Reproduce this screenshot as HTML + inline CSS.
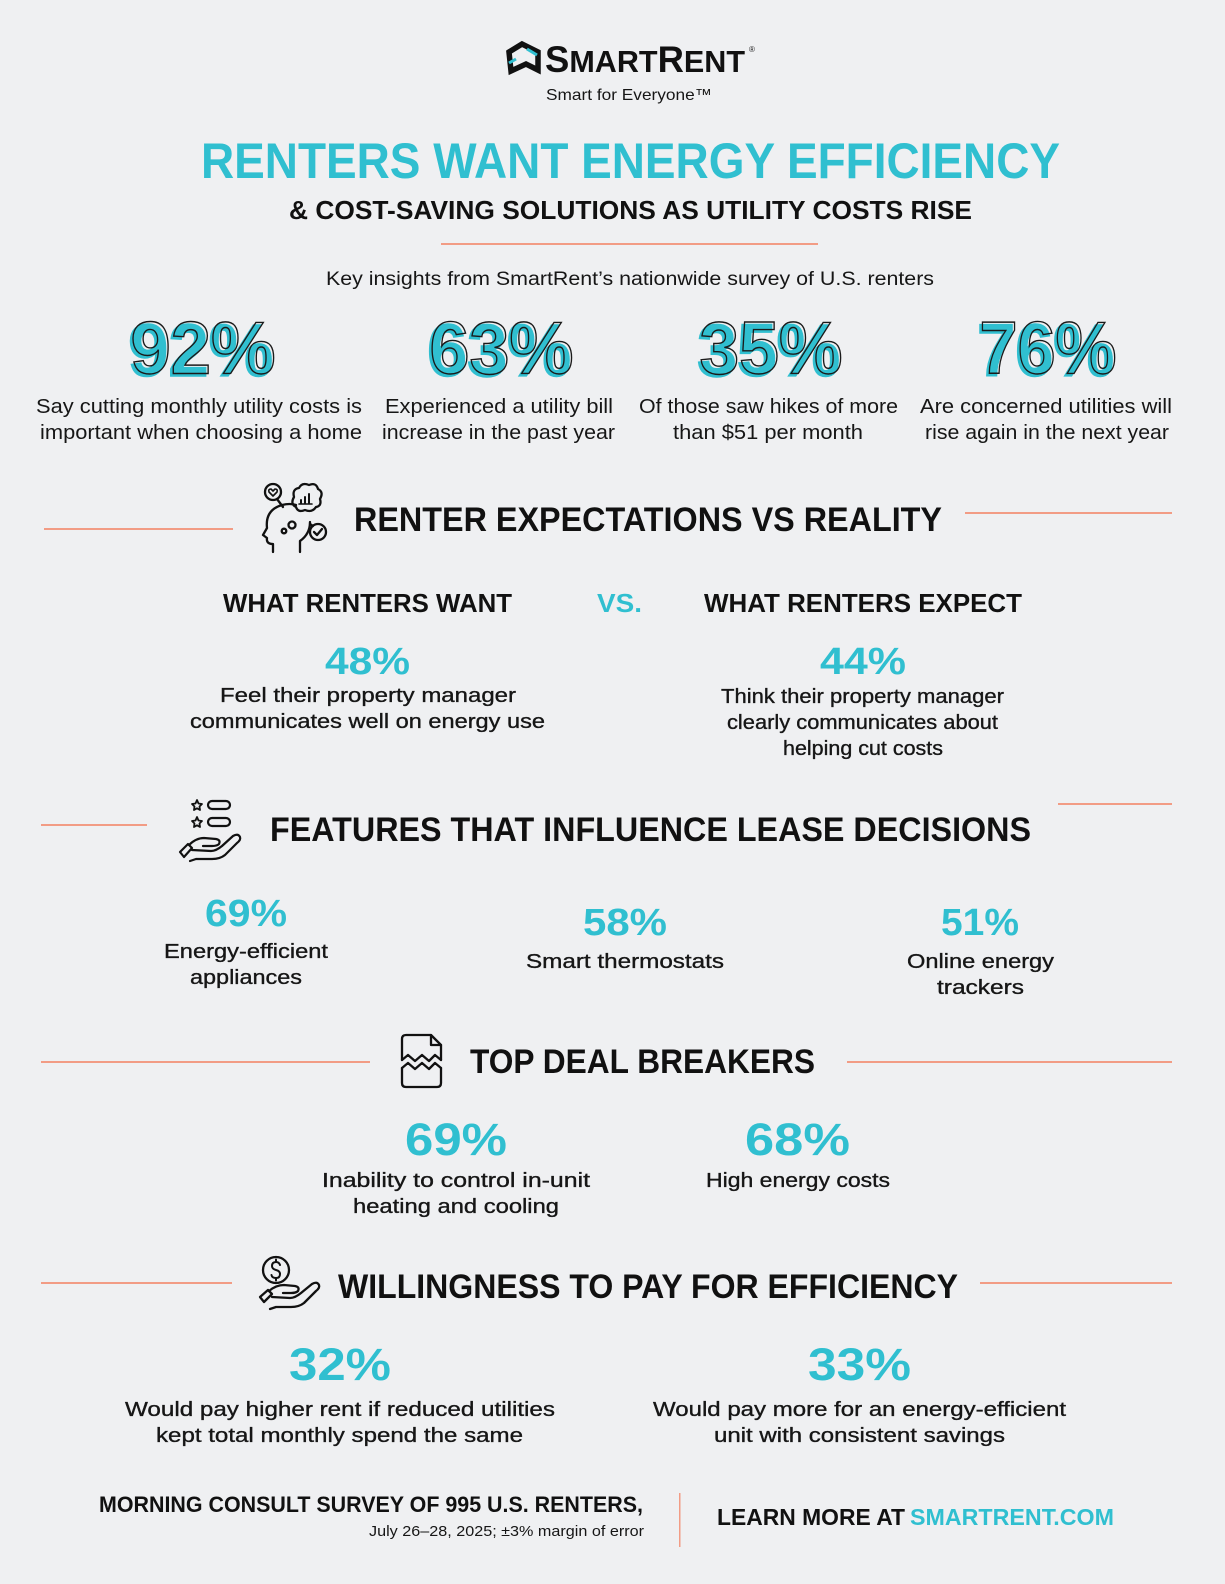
<!DOCTYPE html>
<html><head><meta charset="utf-8"><style>
html,body{margin:0;padding:0;background:#eff0f2;}
svg{display:block;}
.h{font-family:"Liberation Sans",sans-serif;font-weight:bold;}
.b{font-family:"Liberation Sans",sans-serif;fill:#161616;}
</style></head><body>
<svg width="1225" height="1584" viewBox="0 0 1225 1584" xmlns="http://www.w3.org/2000/svg">
<rect width="1225" height="1584" fill="#eff0f2"/>

<!-- Logo -->
<g>
<path d="M509 52 L522 44 L538 52 L538 70 L526 64 L511 71 Z" fill="none" stroke="#111" stroke-width="5.5" stroke-linejoin="miter"/>
<path d="M527 49 L537 55" stroke="#30bfd0" stroke-width="3"/>
<path d="M509 63 L516 59" stroke="#30bfd0" stroke-width="3"/>
<text x="545" y="72" class="h" font-size="37" fill="#111" textLength="200" lengthAdjust="spacingAndGlyphs">S<tspan font-size="31">MART</tspan>R<tspan font-size="31">ENT</tspan></text>
<text x="749" y="52" class="b" font-size="8">®</text>
<text x="629" y="100" class="b" font-size="16" text-anchor="middle" textLength="166" lengthAdjust="spacingAndGlyphs">Smart for Everyone™</text>
</g>

<!-- Title -->
<text x="201" y="178" class="h" font-size="50" fill="#30bfd0" textLength="859" lengthAdjust="spacingAndGlyphs">RENTERS WANT ENERGY EFFICIENCY</text>
<text x="289" y="219" class="h" font-size="26" fill="#111" textLength="683" lengthAdjust="spacingAndGlyphs">&amp; COST-SAVING SOLUTIONS AS UTILITY COSTS RISE</text>
<rect x="441" y="243" width="377" height="2" fill="#f29c85"/>
<text x="326" y="285" class="b" font-size="19" textLength="608" lengthAdjust="spacingAndGlyphs">Key insights from SmartRent’s nationwide survey of U.S. renters</text>

<!-- Big stats -->
<g class="h" font-size="74">
<text x="128" y="376" fill="#30bfd0" stroke="#30bfd0" stroke-width="1.5" textLength="145" lengthAdjust="spacingAndGlyphs">92%</text>
<text x="130.5" y="373.5" fill="none" stroke="#1a1a1a" stroke-width="1.4" textLength="145" lengthAdjust="spacingAndGlyphs">92%</text>
<text x="427" y="376" fill="#30bfd0" stroke="#30bfd0" stroke-width="1.5" textLength="144" lengthAdjust="spacingAndGlyphs">63%</text>
<text x="429.5" y="373.5" fill="none" stroke="#1a1a1a" stroke-width="1.4" textLength="144" lengthAdjust="spacingAndGlyphs">63%</text>
<text x="697" y="376" fill="#30bfd0" stroke="#30bfd0" stroke-width="1.5" textLength="143" lengthAdjust="spacingAndGlyphs">35%</text>
<text x="699.5" y="373.5" fill="none" stroke="#1a1a1a" stroke-width="1.4" textLength="143" lengthAdjust="spacingAndGlyphs">35%</text>
<text x="977" y="376" fill="#30bfd0" stroke="#30bfd0" stroke-width="1.5" textLength="137" lengthAdjust="spacingAndGlyphs">76%</text>
<text x="979.5" y="373.5" fill="none" stroke="#1a1a1a" stroke-width="1.4" textLength="137" lengthAdjust="spacingAndGlyphs">76%</text>
</g>
<g class="b" font-size="20">
<text x="36" y="413" textLength="326" lengthAdjust="spacingAndGlyphs">Say cutting monthly utility costs is</text>
<text x="40" y="439" textLength="322" lengthAdjust="spacingAndGlyphs">important when choosing a home</text>
<text x="385" y="413" textLength="228" lengthAdjust="spacingAndGlyphs">Experienced a utility bill</text>
<text x="382" y="439" textLength="233" lengthAdjust="spacingAndGlyphs">increase in the past year</text>
<text x="639" y="413" textLength="259" lengthAdjust="spacingAndGlyphs">Of those saw hikes of more</text>
<text x="673" y="439" textLength="190" lengthAdjust="spacingAndGlyphs">than $51 per month</text>
<text x="920" y="413" textLength="252" lengthAdjust="spacingAndGlyphs">Are concerned utilities will</text>
<text x="925" y="439" textLength="244" lengthAdjust="spacingAndGlyphs">rise again in the next year</text>
</g>

<!-- Section 1 -->
<rect x="44" y="528" width="189" height="2" fill="#f29c85"/>
<rect x="965" y="512" width="207" height="2" fill="#f29c85"/>
<g fill="none" stroke="#111" stroke-width="2.3" stroke-linecap="round" stroke-linejoin="round">
<path d="M273 552 L273 544 Q266 544 267 538 L263 535 L267 528 Q265 510 282 505 Q290 503 296 505"/>
<path d="M300 552 L300 541 Q310 534 310 522"/>
<circle cx="292" cy="525" r="3.5"/>
<circle cx="284" cy="531" r="2.3"/>
<circle cx="273" cy="492" r="8"/>
<path d="M273 496 L269 492 Q268 489 271 489 L273 491 L275 489 Q278 489 277 492 Z" stroke-width="1.6"/>
<path d="M277 499 L283 507"/>
<path d="M294 497 Q292 489 299 488 Q302 482 309 485 Q316 482 318 489 Q324 492 320 499 Q322 506 316 507 Q312 513 305 510 Q298 513 296 507 Q290 504 294 497 Z"/>
<path d="M301 503 L301 500 M305 503 L305 497 M309 503 L309 494" stroke-width="2"/>
<path d="M299 504 L312 504" stroke-width="1.6"/>
<circle cx="318" cy="532" r="8"/>
<path d="M314 532 L317 535 L322 529"/>
<path d="M310 524 L313 526"/>
</g>
<text x="354" y="531" class="h" font-size="34" fill="#111" textLength="588" lengthAdjust="spacingAndGlyphs">RENTER EXPECTATIONS VS REALITY</text>

<text x="223" y="612" class="h" font-size="26" fill="#111" textLength="289" lengthAdjust="spacingAndGlyphs">WHAT RENTERS WANT</text>
<text x="597" y="612" class="h" font-size="26" fill="#30bfd0" textLength="45" lengthAdjust="spacingAndGlyphs">VS.</text>
<text x="704" y="612" class="h" font-size="26" fill="#111" textLength="318" lengthAdjust="spacingAndGlyphs">WHAT RENTERS EXPECT</text>

<text x="325" y="674" class="h" font-size="38" fill="#30bfd0" textLength="85" lengthAdjust="spacingAndGlyphs">48%</text>
<text x="820" y="674" class="h" font-size="38" fill="#30bfd0" textLength="86" lengthAdjust="spacingAndGlyphs">44%</text>
<g class="b" font-size="20" stroke="#161616" stroke-width="0.35">
<text x="220" y="702" textLength="296" lengthAdjust="spacingAndGlyphs">Feel their property manager</text>
<text x="190" y="728" textLength="355" lengthAdjust="spacingAndGlyphs">communicates well on energy use</text>
<text x="721" y="703" textLength="283" lengthAdjust="spacingAndGlyphs">Think their property manager</text>
<text x="727" y="729" textLength="271" lengthAdjust="spacingAndGlyphs">clearly communicates about</text>
<text x="783" y="755" textLength="160" lengthAdjust="spacingAndGlyphs">helping cut costs</text>
</g>

<!-- Section 2 -->
<rect x="41" y="824" width="106" height="2" fill="#f29c85"/>
<rect x="1058" y="803" width="114" height="2" fill="#f29c85"/>
<g fill="none" stroke="#111" stroke-width="2.2" stroke-linecap="round" stroke-linejoin="round">
<path d="M197 800 L198.5 803.5 L202 804 L199.5 806.5 L200 810 L197 808.3 L194 810 L194.5 806.5 L192 804 L195.5 803.5 Z" stroke-width="1.8"/>
<path d="M197 817 L198.5 820.5 L202 821 L199.5 823.5 L200 827 L197 825.3 L194 827 L194.5 823.5 L192 821 L195.5 820.5 Z" stroke-width="1.8"/>
<rect x="208" y="801" width="22" height="8" rx="4"/>
<rect x="208" y="818" width="22" height="8" rx="4"/>
<path d="M180 852 L188 844 L192 848 L184 857 Z"/>
<path d="M189 845 Q196 838 204 838 L216 839 Q221 840 219 844 Q217 846 212 846 L203 846"/>
<path d="M192 850 L211 851 Q216 851 222 846 L233 836 Q238 833 240 837 Q241 840 237 843 L225 855 Q220 859 212 859 L196 859 L190 861"/>
</g>
<text x="270" y="841" class="h" font-size="34" fill="#111" textLength="761" lengthAdjust="spacingAndGlyphs">FEATURES THAT INFLUENCE LEASE DECISIONS</text>

<text x="205" y="926" class="h" font-size="38" fill="#30bfd0" textLength="82" lengthAdjust="spacingAndGlyphs">69%</text>
<text x="583" y="935" class="h" font-size="38" fill="#30bfd0" textLength="84" lengthAdjust="spacingAndGlyphs">58%</text>
<text x="941" y="935" class="h" font-size="38" fill="#30bfd0" textLength="78" lengthAdjust="spacingAndGlyphs">51%</text>
<g class="b" font-size="20" stroke="#161616" stroke-width="0.35">
<text x="164" y="958" textLength="164" lengthAdjust="spacingAndGlyphs">Energy-efficient</text>
<text x="190" y="984" textLength="112" lengthAdjust="spacingAndGlyphs">appliances</text>
<text x="526" y="968" textLength="198" lengthAdjust="spacingAndGlyphs">Smart thermostats</text>
<text x="907" y="968" textLength="147" lengthAdjust="spacingAndGlyphs">Online energy</text>
<text x="937" y="994" textLength="87" lengthAdjust="spacingAndGlyphs">trackers</text>
</g>

<!-- Section 3 -->
<rect x="41" y="1061" width="329" height="2" fill="#f29c85"/>
<rect x="847" y="1061" width="325" height="2" fill="#f29c85"/>
<g fill="none" stroke="#111" stroke-width="2.3" stroke-linecap="round" stroke-linejoin="round">
<path d="M402 1060 L402 1039 Q402 1035 406 1035 L431 1035 L441 1045 L441 1060"/>
<path d="M431 1035 L431 1045 L441 1045"/>
<path d="M402 1060 L408 1055 L415 1061 L422 1055 L429 1061 L435 1055 L441 1060"/>
<path d="M402 1068 L408 1063 L415 1069 L422 1063 L429 1069 L435 1063 L441 1068"/>
<path d="M402 1068 L402 1083 Q402 1087 406 1087 L437 1087 Q441 1087 441 1083 L441 1068"/>
</g>
<text x="470" y="1073" class="h" font-size="34" fill="#111" textLength="345" lengthAdjust="spacingAndGlyphs">TOP DEAL BREAKERS</text>

<text x="405" y="1155" class="h" font-size="45" fill="#30bfd0" textLength="102" lengthAdjust="spacingAndGlyphs">69%</text>
<text x="745" y="1155" class="h" font-size="45" fill="#30bfd0" textLength="105" lengthAdjust="spacingAndGlyphs">68%</text>
<g class="b" font-size="20" stroke="#161616" stroke-width="0.35">
<text x="322" y="1187" textLength="268" lengthAdjust="spacingAndGlyphs">Inability to control in-unit</text>
<text x="353" y="1213" textLength="206" lengthAdjust="spacingAndGlyphs">heating and cooling</text>
<text x="706" y="1187" textLength="184" lengthAdjust="spacingAndGlyphs">High energy costs</text>
</g>

<!-- Section 4 -->
<rect x="41" y="1282" width="191" height="2" fill="#f29c85"/>
<rect x="980" y="1282" width="192" height="2" fill="#f29c85"/>
<g fill="none" stroke="#111" stroke-width="2.3" stroke-linecap="round" stroke-linejoin="round">
<circle cx="276" cy="1270" r="13"/>
<path d="M280 1265 Q279 1262 276 1262 Q272 1262 272 1266 Q272 1269 276 1270 Q280 1271 280 1274 Q280 1278 276 1278 Q272 1278 271.5 1275" stroke-width="2"/>
<path d="M276 1259.5 L276 1262 M276 1278 L276 1280.5" stroke-width="2"/>
<path d="M260 1297 L268 1290 L272 1294 L264 1302 Z"/>
<path d="M269 1291 Q276 1285 284 1285 L295 1286 Q300 1287 298 1291 Q296 1293 291 1293 L283 1293"/>
<path d="M272 1297 L290 1298 Q295 1298 301 1293 L312 1284 Q317 1281 319 1285 Q320 1288 316 1291 L304 1303 Q299 1307 291 1307 L276 1307 L270 1309"/>
</g>
<text x="338" y="1298" class="h" font-size="34" fill="#111" textLength="620" lengthAdjust="spacingAndGlyphs">WILLINGNESS TO PAY FOR EFFICIENCY</text>

<text x="289" y="1380" class="h" font-size="45" fill="#30bfd0" textLength="102" lengthAdjust="spacingAndGlyphs">32%</text>
<text x="808" y="1380" class="h" font-size="45" fill="#30bfd0" textLength="103" lengthAdjust="spacingAndGlyphs">33%</text>
<g class="b" font-size="20" stroke="#161616" stroke-width="0.35">
<text x="125" y="1416" textLength="430" lengthAdjust="spacingAndGlyphs">Would pay higher rent if reduced utilities</text>
<text x="156" y="1442" textLength="367" lengthAdjust="spacingAndGlyphs">kept total monthly spend the same</text>
<text x="653" y="1416" textLength="413" lengthAdjust="spacingAndGlyphs">Would pay more for an energy-efficient</text>
<text x="714" y="1442" textLength="291" lengthAdjust="spacingAndGlyphs">unit with consistent savings</text>
</g>

<!-- Footer -->
<text x="99" y="1512" class="h" font-size="22" fill="#111" textLength="544" lengthAdjust="spacingAndGlyphs">MORNING CONSULT SURVEY OF 995 U.S. RENTERS,</text>
<text x="644" y="1536" class="b" font-size="15" fill="#444" text-anchor="end" textLength="275" lengthAdjust="spacingAndGlyphs">July 26–28, 2025; ±3% margin of error</text>
<rect x="679" y="1493" width="1.5" height="54" fill="#f29c85"/>
<text x="717" y="1525" class="h" font-size="23" fill="#111" textLength="188" lengthAdjust="spacingAndGlyphs">LEARN MORE AT</text>
<text x="910" y="1525" class="h" font-size="23" fill="#30bfd0" textLength="204" lengthAdjust="spacingAndGlyphs">SMARTRENT.COM</text>
</svg>
</body></html>
